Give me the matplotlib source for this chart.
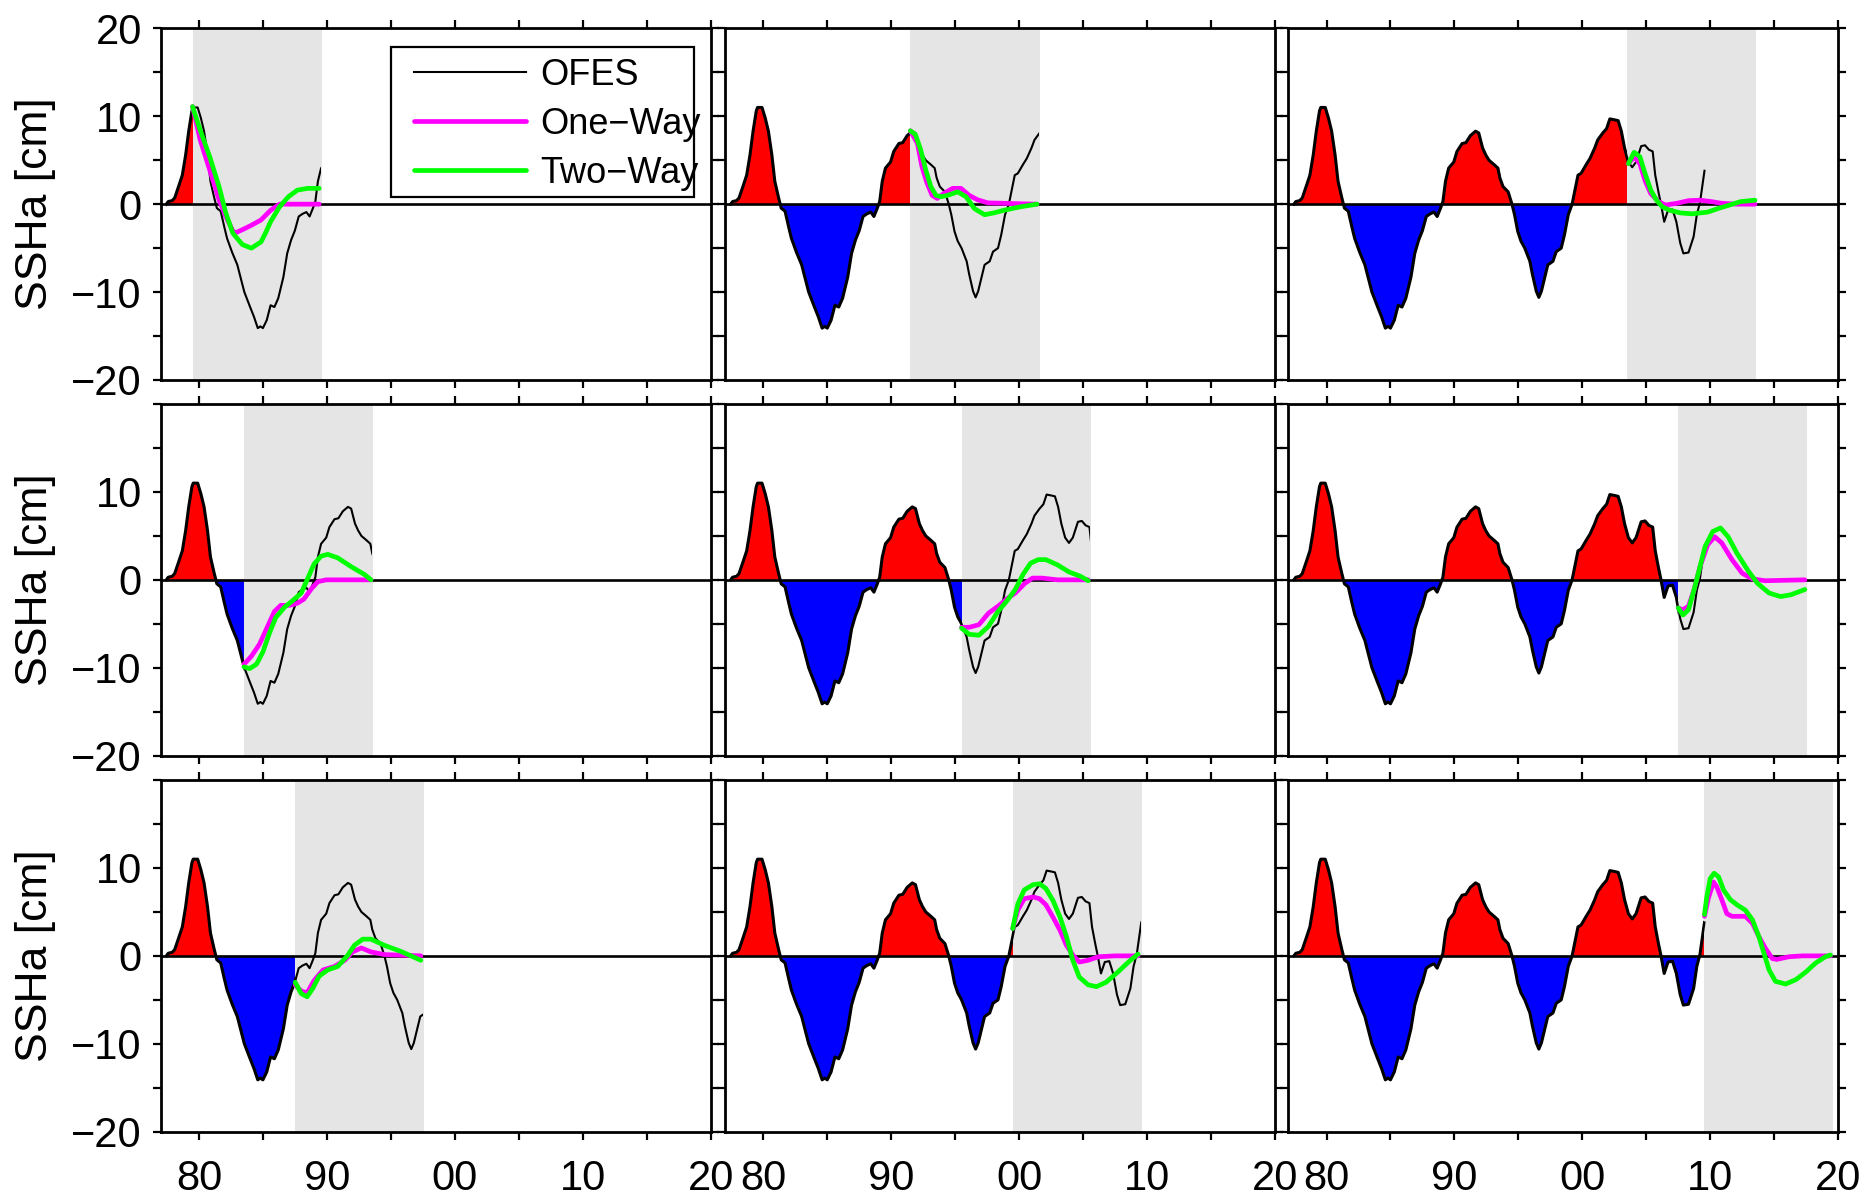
import numpy as np
import matplotlib
matplotlib.use("Agg")
import matplotlib.pyplot as plt
from matplotlib.patches import Rectangle
from matplotlib.ticker import FixedLocator

plt.rcParams['font.family'] = ['Liberation Sans', 'DejaVu Sans']

# ---------------- data ----------------
ofes_years = [1977.45, 1977.6, 1977.9, 1978.1, 1978.45, 1978.7, 1978.96, 1979.2, 1979.45, 1979.55,
              1979.9, 1980.15, 1980.4, 1980.67, 1980.9, 1981.2, 1981.4, 1981.7, 1982.0, 1982.2,
              1982.6, 1983.0, 1983.3, 1983.55, 1984.0, 1984.3, 1984.6, 1984.8, 1985.0, 1985.3,
              1985.6, 1985.9, 1986.2, 1986.6, 1986.9, 1987.2, 1987.5, 1987.8, 1988.1, 1988.4,
              1988.65, 1988.9, 1989.1, 1989.3, 1989.55, 1989.95, 1990.2, 1990.6, 1990.9, 1991.25,
              1991.65, 1991.9, 1992.2, 1992.45, 1992.7, 1993.1, 1993.4, 1993.55, 1993.8, 1994.2,
              1994.5, 1994.7, 1994.95, 1995.2, 1995.5, 1995.9, 1996.1, 1996.4, 1996.6, 1996.8,
              1997.05, 1997.3, 1997.7, 1997.96, 1998.35, 1998.6, 1998.9, 1999.2, 1999.45, 1999.66,
              1999.9, 2000.3, 2000.6, 2000.97, 2001.2, 2001.6, 2001.9, 2002.15, 2002.5, 2002.8,
              2003.05, 2003.3, 2003.6, 2003.9, 2004.2, 2004.6, 2004.9, 2005.2, 2005.5, 2005.7,
              2005.95, 2006.15, 2006.4, 2006.7, 2007.05, 2007.35, 2007.65, 2007.9, 2008.3, 2008.7,
              2008.95, 2009.2, 2009.55]
ofes_ssha = [0.0, 0.3, 0.4, 0.7, 2.2, 3.3, 5.6, 8.3, 10.6, 11.0,
             11.0, 9.8, 8.3, 5.6, 2.6, 0.7, -0.45, -0.8, -2.7, -3.9,
             -5.5, -6.9, -8.6, -10.0, -11.7, -12.8, -14.1, -13.9, -14.1, -13.2,
             -11.5, -11.7, -10.7, -8.3, -5.6, -4.1, -3.0, -1.4, -1.1, -0.9,
             -1.4, -0.5, 0.3, 2.6, 4.1, 4.8, 6.0, 6.9, 7.0, 7.8,
             8.3, 8.1, 6.4, 5.6, 5.0, 4.5, 4.1, 3.0, 2.0, 1.4,
             0.0, -1.2, -3.1, -4.2, -5.0, -6.5, -8.0, -9.9, -10.6, -9.9,
             -8.4, -6.9, -6.5, -5.4, -5.0, -3.5, -1.2, 0.0, 1.8, 3.3,
             3.5, 4.5, 5.2, 6.4, 7.3, 8.1, 8.6, 9.7, 9.6, 9.5,
             8.3, 6.4, 4.8, 4.2, 4.8, 6.6, 6.7, 6.2, 6.0, 3.3,
             1.4, 0.0, -2.0, -0.7, -0.6, -2.0, -4.4, -5.6, -5.5, -3.7,
             -1.2, 0.2, 3.8]

hindcast_starts = [1979.5, 1983.5, 1987.5, 1991.5, 1995.5, 1999.5, 2003.5, 2007.5, 2009.5]

x_ticks = [1980, 1990, 2000, 2010, 2020]
x_tick_labels = ['80', '90', '00', '10', '20']
x_minor = [1985, 1995, 2005, 2015]
y_ticks = [-20, -10, 0, 10, 20]
y_tick_labels_top = ['\u221220', '\u221210', '0', '10', '20']
y_tick_labels_lower = ['\u221220', '\u221210', '0', '10', '']
y_minor = [-15, -5, 5, 15]

one_way_1979 = [(1979.5, 11.1), (1980.1, 7.3), (1980.84, 3.9), (1981.57, 0.5), (1982.1, -1.4),
                (1982.6, -2.9), (1982.8, -3.3), (1983.4, -2.9), (1984.1, -2.4), (1984.85, -1.8),
                (1985.6, -0.7), (1986.3, 0.0), (1989.4, 0.0)]
two_way_1979 = [(1979.5, 11.1), (1980.1, 8.4), (1980.84, 5.4), (1981.57, 2.0), (1982.1, -1.0),
                (1982.65, -3.3), (1983.4, -4.6), (1984.1, -5.0), (1984.85, -4.3), (1985.2, -3.3),
                (1985.6, -2.0), (1986.3, -0.3), (1987.0, 0.85), (1987.7, 1.6), (1988.5, 1.8),
                (1989.4, 1.8)]

one_way_1983 = [(1983.52, -9.6), (1984.1, -8.7), (1984.74, -7.3), (1985.4, -5.2), (1985.9, -3.6),
                (1986.4, -2.9), (1987.1, -2.9), (1987.7, -2.65), (1988.2, -2.2), (1988.8, -1.0),
                (1989.3, -0.2), (1989.95, 0.0), (1993.45, 0.0)]
two_way_1983 = [(1983.52, -9.9), (1983.96, -10.1), (1984.5, -9.6), (1985.0, -8.2), (1985.5, -6.1),
                (1986.0, -4.3), (1986.7, -3.1), (1987.3, -2.4), (1988.0, -1.5), (1988.5, 0.15),
                (1989.0, 1.8), (1989.55, 2.7), (1990.07, 2.9), (1990.85, 2.5), (1991.9, 1.5),
                (1992.95, 0.6), (1993.45, 0.0)]

one_way_1987 = [(1987.52, -3.3), (1988.0, -4.0), (1988.46, -4.2), (1989.0, -2.8), (1989.7, -1.6),
                (1990.6, -1.2), (1991.4, -0.5), (1992.0, 0.45), (1992.7, 0.9), (1993.45, 0.45),
                (1994.5, 0.15), (1997.35, 0.0)]
two_way_1987 = [(1987.52, -3.0), (1988.0, -4.3), (1988.46, -4.65), (1988.9, -3.7), (1989.4, -2.3),
                (1990.07, -1.6), (1990.85, -1.2), (1991.6, 0.0), (1992.15, 1.2), (1992.8, 1.9),
                (1993.45, 1.9), (1994.5, 1.2), (1995.8, 0.5), (1997.35, -0.5)]

one_way_1991 = [(1991.5, 8.35), (1992.05, 6.9), (1992.4, 4.3), (1992.8, 2.4), (1993.2, 1.0),
                (1993.6, 0.65), (1994.1, 1.2), (1994.8, 1.8), (1995.45, 1.8), (1996.1, 1.0),
                (1996.75, 0.5), (1997.55, 0.15), (1998.8, 0.1), (2001.4, 0.0)]
two_way_1991 = [(1991.5, 8.35), (1991.9, 7.9), (1992.3, 6.2), (1992.7, 3.9), (1993.1, 2.0),
                (1993.5, 1.0), (1993.9, 0.85), (1994.4, 1.0), (1995.2, 1.4), (1995.85, 0.85),
                (1996.5, -0.5), (1997.3, -1.2), (1998.0, -1.0), (1998.8, -0.7), (2000.1, -0.3),
                (2001.4, 0.0)]

one_way_1995 = [(1995.5, -5.4), (1996.1, -5.4), (1996.86, -5.1), (1997.6, -3.8), (1998.35, -3.0),
                (1999.1, -2.1), (1999.7, -1.5), (2000.45, -0.4), (2001.05, 0.2), (2001.8, 0.2),
                (2003.0, 0.0), (2005.4, 0.0)]
two_way_1995 = [(1995.5, -5.5), (1996.1, -6.2), (1996.86, -6.3), (1997.6, -5.3), (1998.35, -3.6),
                (1999.1, -2.3), (1999.7, -1.1), (2000.3, 0.6), (2000.9, 1.9), (2001.5, 2.3),
                (2002.1, 2.3), (2003.0, 1.7), (2003.9, 0.9), (2004.8, 0.4), (2005.4, -0.1)]

one_way_1999 = [(1999.5, 3.1), (1999.9, 5.2), (2000.4, 6.5), (2001.1, 6.7), (2001.6, 6.5),
                (2002.1, 5.8), (2002.65, 4.4), (2003.2, 2.9), (2003.7, 1.2), (2004.2, 0.1),
                (2004.7, -0.7), (2005.4, -0.5), (2006.2, -0.1), (2007.5, 0.0), (2009.3, 0.0)]
two_way_1999 = [(1999.5, 3.1), (1999.9, 5.9), (2000.4, 7.5), (2001.1, 8.1), (2001.6, 8.2),
                (2002.1, 7.65), (2002.65, 6.3), (2003.2, 4.4), (2003.7, 2.2), (2004.2, -0.5),
                (2004.7, -2.4), (2005.4, -3.3), (2006.05, -3.5), (2006.8, -3.0), (2007.75, -1.8),
                (2008.7, -0.5), (2009.3, 0.2)]

one_way_2003 = [(2003.6, 4.6), (2004.05, 5.4), (2004.5, 4.6), (2004.9, 2.7), (2005.35, 1.2),
                (2005.95, 0.3), (2006.5, -0.1), (2007.4, 0.1), (2008.3, 0.4), (2009.2, 0.45),
                (2010.05, 0.3), (2010.9, 0.1), (2012.1, 0.0), (2013.5, 0.0)]
two_way_2003 = [(2003.6, 4.6), (2004.05, 5.9), (2004.5, 5.4), (2004.9, 3.5), (2005.35, 1.6),
                (2005.8, 0.45), (2006.25, -0.3), (2006.85, -0.7), (2007.7, -1.0), (2008.6, -1.1),
                (2009.8, -0.9), (2010.6, -0.5), (2011.5, -0.1), (2012.4, 0.3), (2013.5, 0.45)]

one_way_2007 = [(2007.5, -3.2), (2007.87, -3.4), (2008.3, -3.0), (2008.74, -1.1), (2009.2, 1.5),
                (2009.8, 4.0), (2010.35, 4.9), (2010.9, 4.2), (2011.7, 2.3), (2012.5, 0.75),
                (2013.3, 0.1), (2014.3, -0.1), (2017.4, 0.0)]
two_way_2007 = [(2007.5, -3.2), (2007.87, -4.0), (2008.3, -3.4), (2008.74, -1.1), (2009.2, 1.5),
                (2009.6, 3.8), (2010.2, 5.5), (2010.8, 5.9), (2011.4, 4.9), (2012.1, 3.0),
                (2013.0, 0.95), (2013.7, -0.4), (2014.6, -1.5), (2015.5, -1.9), (2016.3, -1.7),
                (2017.4, -1.1)]

one_way_2009 = [(2009.55, 4.5), (2009.86, 6.6), (2010.26, 8.4), (2010.5, 7.9), (2010.9, 6.4),
                (2011.3, 4.8), (2011.7, 4.5), (2012.75, 4.5), (2013.3, 3.7), (2013.8, 2.2),
                (2014.3, 0.9), (2014.85, -0.3), (2015.2, -0.4), (2016.15, -0.1), (2017.2, 0.0),
                (2019.4, 0.0)]
two_way_2009 = [(2009.55, 4.7), (2009.73, 6.7), (2010.0, 8.8), (2010.3, 9.4), (2010.65, 9.0),
                (2011.04, 7.5), (2011.57, 6.4), (2012.1, 5.8), (2012.75, 5.2), (2013.3, 4.1),
                (2013.8, 2.2), (2014.2, 0.3), (2014.6, -1.6), (2015.1, -2.9), (2015.9, -3.2),
                (2016.7, -2.7), (2017.5, -1.8), (2018.25, -0.8), (2019.0, -0.1), (2019.4, 0.1)]

one_way_runs = [one_way_1979, one_way_1983, one_way_1987, one_way_1991, one_way_1995,
                one_way_1999, one_way_2003, one_way_2007, one_way_2009]
two_way_runs = [two_way_1979, two_way_1983, two_way_1987, two_way_1991, two_way_1995,
                two_way_1999, two_way_2003, two_way_2007, two_way_2009]

# ---------------- styling ----------------
RED, BLUE = '#ff0000', '#0000ff'
MAGENTA, GREEN = '#ff00ff', '#00ff00'
GRAY = '#e5e5e5'
TICK_FS = 30
LABEL_FS = 32
LEGEND_FS = 26
WINDOW = 10.1

fig = plt.figure(figsize=(18.65, 12.01), dpi=100)
lefts = [0.0861, 0.3887, 0.6907]
bottoms = [0.6836, 0.3708, 0.0577]
W, H = 0.2949, 0.2928

t = np.array(ofes_years)
v = np.array(ofes_ssha)

for k, s in enumerate(hindcast_starts):
    col, row = k // 3, k % 3
    ax = fig.add_axes([lefts[col], bottoms[row], W, H])
    ax.set_xlim(1977, 2020)
    ax.set_ylim(-20, 20)

    ax.axvspan(s, s + WINDOW, color=GRAY, lw=0, zorder=0)

    clip_before = Rectangle((1960, -40), s - 1960, 80, transform=ax.transData)
    clip_after = Rectangle((s, -40), 10.05, 80, transform=ax.transData)

    f1 = ax.fill_between(t, v, 0, where=v >= 0, interpolate=True, color=RED, lw=0, zorder=1)
    f2 = ax.fill_between(t, v, 0, where=v <= 0, interpolate=True, color=BLUE, lw=0, zorder=1)
    f1.set_clip_path(clip_before)
    f2.set_clip_path(clip_before)
    l1, = ax.plot(t, v, color='black', lw=2.2, zorder=2, solid_joinstyle='round')
    l1.set_clip_path(clip_before)
    l2, = ax.plot(t, v, color='black', lw=1.5, zorder=2, label='OFES')
    l2.set_clip_path(clip_after)

    ax.axhline(0, color='black', lw=1.9, zorder=3)

    ow = np.array(one_way_runs[k])
    tw = np.array(two_way_runs[k])
    ax.plot(ow[:, 0], ow[:, 1], color=MAGENTA, lw=3.4, zorder=4, label='One\u2212Way',
            solid_joinstyle='round', solid_capstyle='round')
    ax.plot(tw[:, 0], tw[:, 1], color=GREEN, lw=3.4, zorder=5, label='Two\u2212Way',
            solid_joinstyle='round', solid_capstyle='round')

    # ticks
    ax.xaxis.set_major_locator(FixedLocator(x_ticks))
    ax.xaxis.set_minor_locator(FixedLocator(x_minor))
    ax.yaxis.set_major_locator(FixedLocator(y_ticks))
    ax.yaxis.set_minor_locator(FixedLocator(y_minor))
    ax.tick_params(which='both', direction='out', length=5.5, width=1.6,
                   top=True, right=True, bottom=True, left=True)
    ax.tick_params(axis='x', which='major', labelsize=TICK_FS, pad=14)
    ax.tick_params(axis='y', which='major', labelsize=TICK_FS, pad=8)
    if row == 2:
        ax.set_xticklabels(x_tick_labels)
    else:
        ax.set_xticklabels([])
    if col == 0:
        ax.set_yticklabels(y_tick_labels_top if row == 0 else y_tick_labels_lower)
        ax.set_ylabel('SSHa [cm]', fontsize=LABEL_FS)
        ax.yaxis.set_label_coords(-0.19, 0.5)
    else:
        ax.set_yticklabels([])
    for sp in ax.spines.values():
        sp.set_linewidth(2.0)

    if k == 0:
        frame = Rectangle((0.419, 0.521), 0.55, 0.427, transform=ax.transAxes,
                          facecolor='white', edgecolor='black', lw=1.6, zorder=6)
        ax.add_patch(frame)
        leg = ax.legend(loc='center left', bbox_to_anchor=(0.461, 0.727),
                        frameon=False, fontsize=LEGEND_FS, borderpad=0, borderaxespad=0,
                        handlelength=3.1, handletextpad=0.4, labelspacing=0.38)
        leg.set_zorder(7)

fig.savefig('out.png', dpi=100)
